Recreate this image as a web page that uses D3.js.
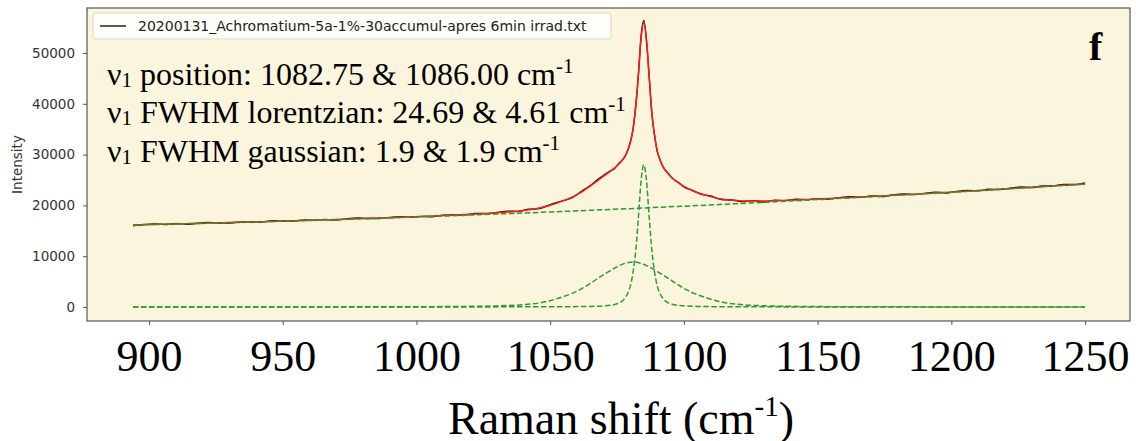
<!DOCTYPE html>
<html><head><meta charset="utf-8">
<script src="https://cdn.jsdelivr.net/npm/d3@7"></script>
<style>body{margin:0;background:#fff}svg{display:block}</style>
</head><body><svg id="c" width="1136" height="441"></svg>
<script>
// ---- data ----
const shift = [894,898,902,906,910,914,918,922,926,930,934,938,942,946,950,954,958,962,966,970,974,978,982,986,990,994,998,1002,1006,1010,1014,1018,1022,1026,1030,1034,1038,1042,1046,1050,1054,1058,1062,1065,1068,1070,1072,1074,1076,1077,1078,1079,1080,1081,1082,1083,1084,1085,1086,1087,1088,1089,1090,1091,1092,1094,1096,1098,1100,1103,1106,1110,1114,1118,1122,1126,1130,1134,1138,1142,1146,1150,1154,1158,1162,1166,1170,1174,1178,1182,1186,1190,1194,1198,1202,1206,1210,1214,1218,1222,1226,1230,1234,1238,1242,1246,1250];
const intensity = [16005,16241,16370,16239,16440,16280,16484,16666,16521,16506,16742,16751,16699,16989,16919,16902,17146,17070,17226,17092,17381,17519,17426,17416,17641,17798,17687,17844,17778,18085,18131,18110,18413,18387,18591,18864,18830,19236,19379,20158,20804,21462,22877,23894,25191,25920,26630,27236,28432,28964,29647,30901,32604,35007,39700,45714,53417,56389,52414,45557,38111,33935,30688,29112,27744,26384,25192,24510,23633,23011,22295,21849,21170,21056,20739,20937,20674,21035,20938,21218,21134,21343,21225,21513,21704,21601,21858,21728,22040,22242,22128,22363,22612,22449,22770,22961,22854,23168,23132,23379,23626,23495,23823,23874,24125,24118,24430];
const fitTotal = [16155,16201,16250,16299,16350,16400,16454,16506,16561,16616,16672,16731,16789,16849,16909,16972,17036,17100,17166,17232,17301,17369,17446,17516,17591,17668,17747,17824,17908,17995,18091,18190,18293,18407,18531,18684,18870,19126,19469,20018,20744,21582,22727,23804,24971,25740,26510,27336,28282,28904,29727,30801,32404,35157,39450,46014,53017,55889,52614,45257,38361,33785,30808,29012,27824,26254,25252,24420,23743,22941,22335,21729,21260,20996,20889,20857,20874,20925,20998,21078,21164,21253,21345,21443,21544,21651,21758,21868,21980,22092,22208,22323,22442,22559,22680,22801,22924,23048,23172,23299,23426,23555,23683,23814,23945,24078,24210];

const baseShift = [894,950,1000,1050,1100,1150,1200,1250];
const baseInt = [16150,16894,17724,18708,19848,21143,22594,24199];

const broadShift = [894,950,1000,1020,1030,1040,1046,1050,1054,1058,1062,1066,1069,1072,1075,1078,1081,1084,1087,1090,1093,1096,1100,1104,1108,1112,1116,1122,1131,1141,1160,1181,1210,1250];
const broadInt = [5,14,55,130,220,450,800,1250,1880,2630,3670,5000,6050,7000,7900,8600,8860,8600,7900,7000,6050,5000,3670,2630,1880,1250,800,450,220,130,55,30,14,7];

const narrowShift = [894,1000,1035,1050,1060,1065,1070,1074,1076,1077,1078,1079,1080,1081,1082,1083,1084,1085,1086,1087,1088,1089,1090,1091,1092,1093,1094,1096,1100,1105,1110,1120,1135,1170,1250];
const narrowInt = [0,8,30,45,80,120,225,500,850,1200,1800,2700,4200,6900,11200,17820,24950,28000,24950,17820,11200,6900,4200,2700,1800,1200,850,500,225,120,80,45,25,8,0];

const xTicks = [900,950,1000,1050,1100,1150,1200,1250];
const yTicks = [0,10000,20000,30000,40000,50000];
const legendLabel = "20200131_Achromatium-5a-1%-30accumul-apres 6min irrad.txt";
const annotLines = [
  "position: 1082.75 & 1086.00 cm",
  "FWHM lorentzian: 24.69 & 4.61 cm",
  "FWHM gaussian: 1.9 & 1.9 cm"
];

// ---- drawing ----
const svg = d3.select("#c");
const L = 87, R = 1130, T = 8, B = 321;
const x = d3.scaleLinear().domain([876.8, 1266.8]).range([L, R]);
const y = d3.scaleLinear().domain([-2756, 58858]).range([B, T]);
const serif = "'Liberation Serif','Times New Roman',serif";
const sans = "'DejaVu Sans',sans-serif";

svg.append("rect").attr("x", L).attr("y", T).attr("width", R - L).attr("height", B - T).attr("fill", "#fcf5dd");

const pts = (xs, ys) => xs.map((v, i) => [v, ys[i]]);
const line = d3.line().x(d => x(d[0])).y(d => y(d[1])).curve(d3.curveMonotoneX);

svg.append("path").attr("d", line(pts(shift, intensity))).attr("fill", "none").attr("stroke", "#111").attr("stroke-width", 1.4);
svg.append("path").attr("d", line(pts(shift, fitTotal))).attr("fill", "none").attr("stroke", "#ff1a1a").attr("stroke-width", 1.5);
[[baseShift, baseInt], [broadShift, broadInt], [narrowShift, narrowInt]].forEach(([xs, ys]) => {
  svg.append("path").attr("d", line(pts(xs, ys))).attr("fill", "none").attr("stroke", "#2e9a2e")
    .attr("stroke-width", 1.5).attr("stroke-dasharray", "5.5,2.5");
});

// frame
svg.append("rect").attr("x", L).attr("y", T).attr("width", R - L).attr("height", B - T)
  .attr("fill", "none").attr("stroke", "#555").attr("stroke-width", 1.2);

// y axis
const ya = svg.append("g").attr("transform", `translate(${L},0)`)
  .call(d3.axisLeft(y).tickValues(yTicks).tickFormat(d3.format("d")).tickSize(4).tickPadding(8));
ya.select(".domain").remove();
ya.selectAll("line").attr("stroke", "#555");
ya.selectAll("text").attr("font-family", sans).attr("font-size", 13.5).attr("fill", "#333");
svg.append("text").attr("transform", `translate(22,${(T + B) / 2}) rotate(-90)`).attr("text-anchor", "middle")
  .attr("font-family", sans).attr("font-size", 13.5).attr("fill", "#333").text("Intensity");

// x axis
const xa = svg.append("g").attr("transform", `translate(0,${B})`)
  .call(d3.axisBottom(x).tickValues(xTicks).tickFormat(d3.format("d")).tickSize(4).tickPadding(15));
xa.select(".domain").remove();
xa.selectAll("line").attr("stroke", "#555");
xa.selectAll("text").attr("font-family", serif).attr("font-size", 44).attr("fill", "#000");

const xt = svg.append("text").attr("x", 621).attr("y", 434).attr("text-anchor", "middle")
  .attr("font-family", serif).attr("font-size", 46).attr("fill", "#000");
xt.append("tspan").text("Raman shift (cm");
xt.append("tspan").attr("font-size", 29).attr("dy", -18).text("-1");
xt.append("tspan").attr("dy", 18).text(")");

// legend
svg.append("rect").attr("x", 93).attr("y", 13).attr("width", 518).attr("height", 26).attr("rx", 3)
  .attr("fill", "#fefdf8").attr("stroke", "#d8d8d8").attr("stroke-width", 1);
svg.append("line").attr("x1", 100).attr("x2", 126).attr("y1", 26).attr("y2", 26).attr("stroke", "#111").attr("stroke-width", 1.4);
svg.append("text").attr("x", 138).attr("y", 31).attr("font-family", sans).attr("font-size", 14).attr("fill", "#222").text(legendLabel);

// annotations
const baselines = [85, 123, 162];
annotLines.forEach((a, i) => {
  const t = svg.append("text").attr("x", 107).attr("y", baselines[i]).attr("font-family", serif).attr("font-size", 32).attr("fill", "#000");
  t.append("tspan").text("\u03BD");
  t.append("tspan").attr("font-size", 21).attr("dy", 2).text("1");
  t.append("tspan").attr("dy", -2).text(" " + a);
  t.append("tspan").attr("font-size", 21).attr("dy", -12).text("-1");
});

svg.append("text").attr("x", 1089).attr("y", 60).attr("font-family", serif).attr("font-weight", "bold")
  .attr("font-size", 40).attr("fill", "#000").text("f");
</script></body></html>
